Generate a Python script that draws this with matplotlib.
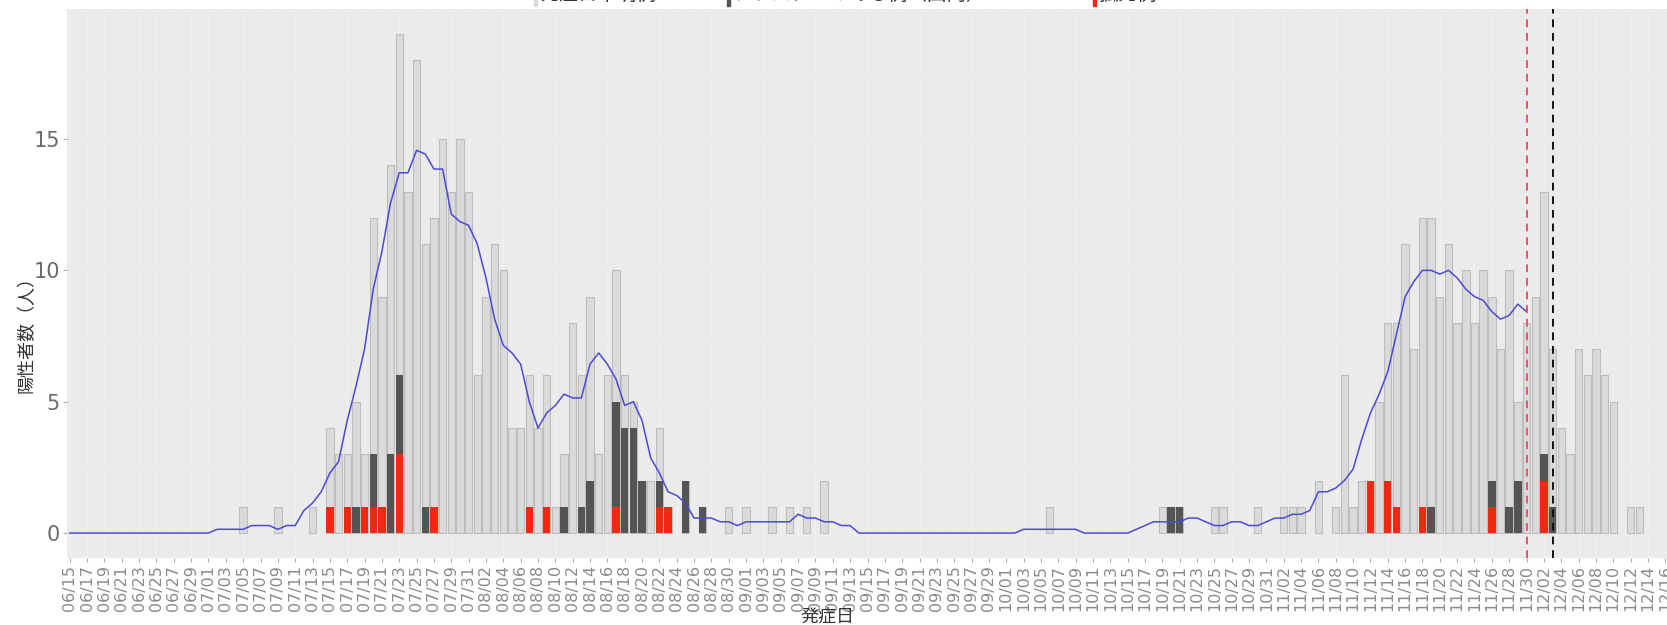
import matplotlib
matplotlib.use("Agg")
import matplotlib.pyplot as plt
import matplotlib.patches as mpatches
import matplotlib.dates as mdates
import pandas as pd

plt.rcParams['font.family'] = ['DejaVu Sans', 'Noto Sans CJK JP']
JP = ['Noto Sans CJK JP', 'DejaVu Sans']

YEAR = 2020
axis_start = f'{YEAR}-06-15'
axis_end = f'{YEAR}-12-16'
ma_last = f'{YEAR}-11-30'        # last day whose centred 7-day window is complete
report_cutoff = f'{YEAR}-12-03'

# positives per onset day (days not listed had none)
onset_dates = [
    '07/05', '07/09', '07/13', '07/15', '07/16', '07/17', '07/18', '07/19', '07/20', '07/21',
    '07/22', '07/23', '07/24', '07/25', '07/26', '07/27', '07/28', '07/29', '07/30', '07/31',
    '08/01', '08/02', '08/03', '08/04', '08/05', '08/06', '08/07', '08/08', '08/09', '08/10',
    '08/11', '08/12', '08/13', '08/14', '08/15', '08/16', '08/17', '08/18', '08/19', '08/20',
    '08/21', '08/22', '08/23', '08/25', '08/27', '08/30', '09/01', '09/04', '09/06', '09/08',
    '09/10', '10/06', '10/19', '10/20', '10/21', '10/25', '10/26', '10/30', '11/02', '11/03',
    '11/04', '11/06', '11/08', '11/09', '11/10', '11/11', '11/12', '11/13', '11/14', '11/15',
    '11/16', '11/17', '11/18', '11/19', '11/20', '11/21', '11/22', '11/23', '11/24', '11/25',
    '11/26', '11/27', '11/28', '11/29', '11/30', '12/01', '12/02', '12/03', '12/04', '12/05',
    '12/06', '12/07', '12/08', '12/09', '12/10', '12/12', '12/13',
]
onset_totals = [
    1, 1, 1, 4, 3, 3, 5, 3, 12, 9,
    14, 19, 13, 18, 11, 12, 15, 13, 15, 13,
    6, 9, 11, 10, 4, 4, 6, 4, 6, 1,
    3, 8, 6, 9, 3, 6, 10, 6, 5, 2,
    2, 4, 1, 2, 1, 1, 1, 1, 1, 1,
    2, 1, 1, 1, 1, 1, 1, 1, 1, 1,
    1, 2, 1, 6, 1, 2, 2, 5, 8, 8,
    11, 7, 12, 12, 9, 11, 8, 10, 8, 10,
    9, 7, 10, 5, 8, 9, 13, 7, 4, 3,
    7, 6, 7, 6, 5, 1, 1,
]

# cases linked to a cluster (dark segment)
cluster_dates = ['07/18', '07/20', '07/22', '07/23', '07/26', '08/11', '08/13', '08/14',
                 '08/17', '08/18', '08/19', '08/20', '08/22', '08/25', '08/27', '10/20',
                 '10/21', '11/19', '11/26', '11/28', '11/29', '12/02', '12/03']
cluster_counts = [1, 2, 3, 3, 1, 1, 1, 2,
                  4, 4, 4, 2, 1, 2, 1, 1,
                  1, 1, 1, 1, 2, 1, 1]

# red segment, drawn at the bottom of each bar
red_dates = ['07/15', '07/17', '07/19', '07/20', '07/21', '07/23', '07/27', '08/07',
             '08/09', '08/17', '08/22', '08/23', '11/12', '11/14', '11/15', '11/18',
             '11/26', '12/02']
red_counts = [1, 1, 1, 1, 1, 3, 1, 1,
              1, 1, 1, 1, 2, 2, 1, 1,
              1, 2]

legend_labels = ['発症日不明例', 'クラスターのある例（国内）', '孤発例']

# ---- daily series -------------------------------------------------------
days = pd.date_range(axis_start, axis_end, freq='D')


def daily(dates, counts):
    s = pd.Series(0.0, index=days)
    s[pd.to_datetime([f'{YEAR}/{d}' for d in dates])] = counts
    return s


total = daily(onset_dates, onset_totals)
cluster = daily(cluster_dates, cluster_counts)
red = daily(red_dates, red_counts)
ma = total.rolling(7, center=True, min_periods=1).mean()
ma = ma[ma.index <= pd.Timestamp(ma_last)]

# ---- figure ---------------------------------------------------------------
W, H = 1667, 625
fig = plt.figure(figsize=(W / 100, H / 100), dpi=100)
fig.patch.set_facecolor('white')
ax = fig.add_axes([66.7 / W, 67 / H, 1 - 66.7 / W, 549 / H])
ax.set_facecolor('#EBEBEB')

x = mdates.date2num(days)
x_ma = mdates.date2num(ma.index)

# faint grid
for t in x[::2]:
    ax.axvline(t, color='#F1F1F1', lw=0.7, zorder=0)
for yv in [0, 2.5, 5, 7.5, 10, 12.5, 15, 17.5]:
    ax.axhline(yv, color='#EEEEEE', lw=0.6, zorder=0)

bw = 0.85
nz = total.values > 0
ax.bar(x[nz], total.values[nz], width=bw, color='#DADADA', edgecolor='#BDBDBD',
       linewidth=0.8, zorder=2)
nzc = cluster.values > 0
ax.bar(x[nzc], cluster.values[nzc], bottom=red.values[nzc], width=bw, color='#545454',
       edgecolor='none', zorder=3)
nzr = red.values > 0
ax.bar(x[nzr], red.values[nzr], width=bw, color='#EE2A12', edgecolor='none', zorder=3)

# centred 7-day average
ax.plot(x_ma, ma.values, color='#4A4AD8', lw=1.1, zorder=4)

ax.axvline(mdates.date2num(pd.Timestamp(ma_last)), color='#F0506A', lw=1.4,
           ls=(0, (4, 3)), zorder=5)
ax.axvline(mdates.date2num(pd.Timestamp(report_cutoff)), color='#111111', lw=1.4,
           ls=(0, (4, 3)), zorder=5)

ax.set_xlim(x[0] - 0.35, x[-1] + 0.2)
ax.set_ylim(-0.95, 19.95)

ax.set_xticks(x[::2])
ax.set_xticklabels([d.strftime('%m/%d') for d in days[::2]], rotation=90,
                   fontsize=11.5, color='#8A8A8A')
ax.set_yticks([0, 5, 10, 15])
ax.set_yticklabels(['0', '5', '10', '15'], fontsize=15, color='#6A6A6A')
ax.tick_params(axis='both', length=3, color='#AAAAAA', pad=2)
for sp in ax.spines.values():
    sp.set_visible(False)

# axis titles
fig.text(27 / W, 1 - 330 / H, '陽性者数（人）', family=JP, fontsize=13, color='#333333',
         rotation=90, ha='center', va='center')
fig.text(827 / W, 1 - 616 / H, '発症日', family=JP, fontsize=13, color='#333333',
         ha='center', va='center')

# legend row along the top edge
leg_items = [(534, '#DADADA'), (727, '#545454'), (1093, '#EE2A12')]
for (px, col), lab in zip(leg_items, legend_labels):
    fig.patches.append(mpatches.Rectangle((px / W, 1 - 6 / H), 3 / W, 12 / H,
                                          transform=fig.transFigure, color=col))
    fig.text((px + 5) / W, 1 - 5 / H, lab, family=JP, fontsize=14, color='#333333',
             ha='left', va='bottom')

fig.savefig('out.png', dpi=100)
